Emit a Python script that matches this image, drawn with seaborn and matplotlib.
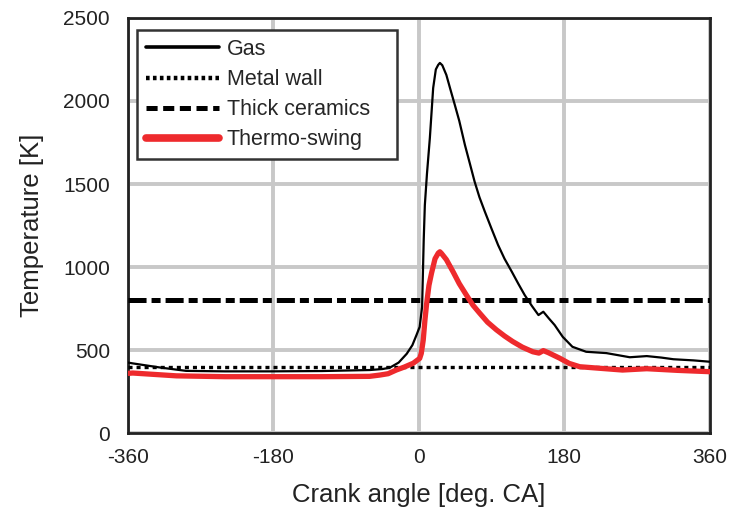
import matplotlib
matplotlib.use("Agg")
import matplotlib.pyplot as plt
import seaborn as sns
import pandas as pd
from matplotlib.lines import Line2D

gas_angle = [-360, -354, -320, -288, -240, -184, -120, -61, -45, -36, -25, -15, -8, -3, 1, 4, 6, 7.4, 10, 13.6, 17.7, 21, 23.9, 26, 29, 34, 39, 44.5, 50, 57, 63, 69, 75, 81.7, 90, 98, 106, 115, 123, 131, 140, 148, 154, 161, 168, 178, 190, 207, 232, 261, 282, 300, 315, 340, 360]
gas_T = [425, 420, 395, 375, 372, 372, 374, 380, 386, 394, 425, 478, 530, 590, 640, 760, 1163, 1373, 1560, 1777, 2078, 2190, 2217, 2229, 2215, 2157, 2070, 1976, 1880, 1735, 1625, 1514, 1420, 1333, 1230, 1133, 1050, 972, 900, 831, 765, 711, 731, 690, 651, 580, 520, 490, 482, 457, 464, 455, 445, 438, 430]

red_angle = [-360, -354, -300, -240, -184, -120, -61, -48, -38, -28, -18, -7, 1, 3, 5.4, 7.5, 9.5, 12.5, 15.7, 20, 24, 26, 28, 34, 42.5, 50, 59, 67, 75.5, 85, 96, 106, 116, 128, 141, 148.5, 154, 160, 174, 186, 199, 220, 252, 282, 320, 360]
red_T = [360, 362, 345, 340, 340, 340, 342, 350, 358, 380, 398, 421, 450, 480, 560, 680, 775, 890, 964, 1050, 1084, 1092, 1082, 1045, 970, 900, 830, 770, 721, 668, 622, 585, 552, 518, 490, 482, 497, 485, 452, 420, 400, 392, 380, 388, 378, 370]

metal_T = 400
ceramic_T = 800
x_ticks = [-360, -180, 0, 180, 360]
y_ticks = [0, 500, 1000, 1500, 2000, 2500]

sns.set_theme(style="white")
plt.rcParams['font.family'] = ['Liberation Sans', 'DejaVu Sans']
plt.rcParams['lines.scale_dashes'] = False
plt.rcParams['axes.unicode_minus'] = False

fig = plt.figure(figsize=(7.31, 5.12), dpi=100)
ax = fig.add_axes([0.175, 0.154, 0.796, 0.811])

gas_df = pd.DataFrame({"angle": gas_angle, "T": gas_T})
red_df = pd.DataFrame({"angle": red_angle, "T": red_T})
flat_df = pd.DataFrame({"angle": [-360, 360], "metal": [metal_T, metal_T], "ceramic": [ceramic_T, ceramic_T]})

sns.lineplot(data=gas_df, x="angle", y="T", ax=ax, color="black", lw=1.6, zorder=4, legend=False)
sns.lineplot(data=flat_df, x="angle", y="metal", ax=ax, color="black", lw=2.4, zorder=3, legend=False)
ax.lines[-1].set_dashes((2.9, 2.9))
sns.lineplot(data=flat_df, x="angle", y="ceramic", ax=ax, color="black", lw=3.6, zorder=3, legend=False)
ax.lines[-1].set_dashes((13, 3.6, 6.5, 3.6))
sns.lineplot(data=red_df, x="angle", y="T", ax=ax, color="#EE2A2D", lw=3.8, zorder=5, legend=False)

ax.set_xlim(-360, 360)
ax.set_ylim(0, 2500)
ax.set_xticks(x_ticks)
ax.set_yticks(y_ticks)
ax.grid(True, color="#C8C8C8", lw=2.8)
ax.set_axisbelow(True)
for s in ax.spines.values():
    s.set_color("#222222")
    s.set_linewidth(2.0)
ax.tick_params(direction="in", length=5, width=2, colors="#222222", labelsize=15)
ax.tick_params(axis="y", pad=13)
ax.tick_params(axis="x", pad=11)
ax.set_xlabel("Crank angle [deg. CA]", fontsize=18.5, color="#222222", labelpad=11)
ax.set_ylabel("Temperature [K]", fontsize=18.5, color="#222222", labelpad=14)

handles = [
    Line2D([], [], color="black", lw=2.6),
    Line2D([], [], color="black", lw=3.2, dashes=(2.6, 2.4)),
    Line2D([], [], color="black", lw=3.6, dashes=(8, 4)),
    Line2D([], [], color="#EE2A2D", lw=5.5),
]
labels = ["Gas", "Metal wall", "Thick ceramics", "Thermo-swing"]
leg = ax.legend(handles, labels, loc="upper left", bbox_to_anchor=(0.0155, 0.0, 0.447, 0.971),
                mode="expand", fontsize=15.5, frameon=True, fancybox=False,
                edgecolor="#333333", framealpha=1, handlelength=3.4, borderaxespad=0.0,
                labelspacing=0.42, handletextpad=0.35, borderpad=0.42)
leg.get_frame().set_linewidth(1.8)

fig.savefig("out.png", dpi=100)
